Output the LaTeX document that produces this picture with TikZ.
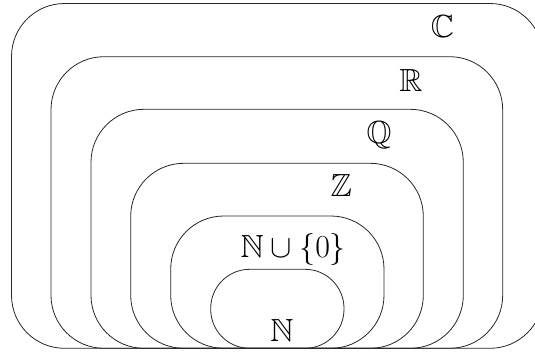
\RequirePackage{fix-cm}
\documentclass[tikz,border=0pt]{standalone}
\usepackage{amssymb}
\DeclareMathSizes{32}{32}{22}{16}
\begin{document}
\begin{tikzpicture}[x=1pt,y=-1pt,
  setbox/.style={draw=black!85,line width=0.8pt,rounded corners=53pt},
  setlabel/.style={anchor=base,inner sep=0pt,font=\fontsize{32}{38}\selectfont}]
\clip (0,0) rectangle (535,354);
\draw[setbox] (11.5,3.5) rectangle (543,348.3);
\draw[setbox] (51,56.7) rectangle (502.7,348.3);
\draw[setbox] (91,109.3) rectangle (463.3,348.3);
\draw[setbox] (130.7,163.3) rectangle (423.3,348.3);
\draw[setbox] (170.7,216) rectangle (384,348.3);
\draw[setbox,rounded corners=39pt] (210.7,269.3) rectangle (344,348.3);
\node[setlabel] (C) at (442.5,37.7) {$\mathbb{C}$};
\node[setlabel] (R) at (410.8,91.7) {$\mathbb{R}$};
\node[setlabel] (Q) at (379,143.7) {$\mathbb{Q}$};
\node[setlabel] (Z) at (341.3,196) {$\mathbb{Z}$};
\node[setlabel] (N0) at (293.3,257.7) {$\mathbb{N}\cup\{0\}$};
\node[setlabel] (N) at (282,341) {$\mathbb{N}$};
\end{tikzpicture}
\end{document}
